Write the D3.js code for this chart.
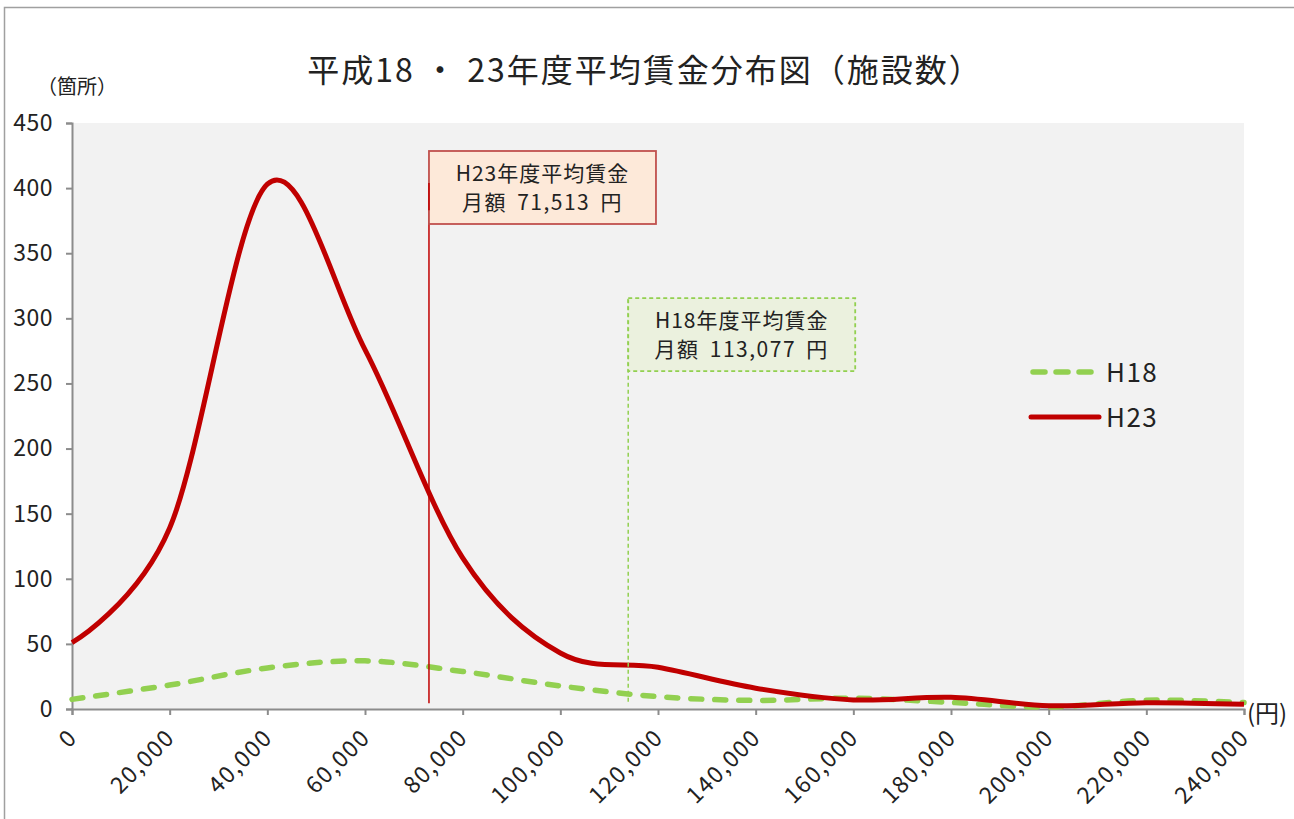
<!DOCTYPE html>
<html>
<head>
<meta charset="utf-8">
<script src="https://cdn.jsdelivr.net/npm/d3@7"></script>
<style>
  html, body { margin: 0; padding: 0; background: #ffffff; }
  svg { display: block; }
  text { font-family: "Noto Sans CJK JP", "Noto Sans", sans-serif; fill: #222; }
</style>
</head>
<body>
<svg id="chart" width="1294" height="819"></svg>
<script>
// ---- data ----
const wages = [0, 20000, 40000, 60000, 80000, 100000, 120000,
  140000, 160000, 180000, 200000, 220000, 240000];
const h23 = [51, 139, 403, 276, 116, 43, 32, 16, 7, 9, 2.5, 4.8, 3.6];
const h18 = [7.4, 18.4, 31.5, 37, 28.8, 17.7, 9.5, 6.6, 8.3, 5.1, 1.5, 6.8, 4.9];
const xTicks = [0, 20000, 40000, 60000, 80000, 100000, 120000, 140000, 160000, 180000, 200000, 220000, 240000];
const yTicks = [0, 50, 100, 150, 200, 250, 300, 350, 400, 450];
const seriesNames = ["H18", "H23"];
const avgPositions = [113900, 73100];   // where the marker lines sit in the picture
const avgLabels = [["H18年度平均賃金", "月額 113,077 円"], ["H23年度平均賃金", "月額 71,513 円"]];
const titleText = "平成18 ・ 23年度平均賃金分布図（施設数）";

// ---- layout ----
const svg = d3.select("#chart");
const L = 72, R = 1244, T = 123, B = 709;
const x = d3.scaleLinear().domain([0, 240000]).range([L, R]);
const y = d3.scaleLinear().domain([0, 450]).range([B, T]);
const fmt = d3.format(",");

// outer frame
svg.append("rect").attr("x", 4.5).attr("y", 7.5).attr("width", 1300).attr("height", 830)
  .attr("fill", "#fff").attr("stroke", "#a0a0a0").attr("stroke-width", 1.5);

// plot background
svg.append("rect").attr("x", L).attr("y", T).attr("width", R - L).attr("height", B - T)
  .attr("fill", "#f2f2f2");

// title
svg.append("text").attr("x", 645).attr("y", 82).attr("text-anchor", "middle")
  .attr("font-size", 32).attr("letter-spacing", 2).text(titleText);

// y unit
svg.append("text").attr("x", 37).attr("y", 94).attr("font-size", 20).text("（箇所）");

// y axis
const yAxis = svg.append("g").attr("transform", `translate(${L},0)`)
  .call(d3.axisLeft(y).tickValues(yTicks).tickSize(6).tickPadding(12).tickFormat(d => d));
yAxis.select(".domain").attr("stroke", "#8c8c8c").attr("stroke-width", 2);
yAxis.selectAll(".tick line").attr("stroke", "#8c8c8c").attr("stroke-width", 2);
yAxis.selectAll(".tick text").attr("font-size", 23).attr("fill", "#222")
  .attr("font-family", "'Noto Sans CJK JP', sans-serif").attr("letter-spacing", 0.5).attr("dx", -1);

// x axis
const xAxis = svg.append("g").attr("transform", `translate(0,${B})`)
  .call(d3.axisBottom(x).tickValues(xTicks).tickSize(6).tickFormat(d => fmt(d)));
xAxis.select(".domain").attr("stroke", "#8c8c8c").attr("stroke-width", 2);
xAxis.selectAll(".tick line").attr("stroke", "#8c8c8c").attr("stroke-width", 2);
xAxis.selectAll(".tick text").attr("font-size", 23).attr("fill", "#222")
  .attr("font-family", "'Noto Sans CJK JP', sans-serif").attr("letter-spacing", 1.5)
  .attr("text-anchor", "end").attr("dy", null).attr("y", 0)
  .attr("transform", "translate(6,30) rotate(-45)");

// x unit
svg.append("text").attr("x", 1247).attr("y", 722).attr("font-size", 24).text("(円)");

// lines
const line = d3.line().curve(d3.curveCardinal.tension(0))
  .x((d, i) => x(wages[i])).y(d => y(d));

svg.append("path").datum(h18).attr("d", line).attr("fill", "none")
  .attr("stroke", "#92d050").attr("stroke-width", 5.5)
  .attr("stroke-dasharray", "11,13").attr("stroke-linecap", "round");

svg.append("path").datum(h23).attr("d", line).attr("fill", "none")
  .attr("stroke", "#c00000").attr("stroke-width", 5).attr("stroke-linejoin", "round");

// average marker lines
svg.append("line").attr("x1", x(avgPositions[1])).attr("x2", x(avgPositions[1]))
  .attr("y1", y(404)).attr("y2", y(4.5)).attr("stroke", "#c00000").attr("stroke-width", 1.5);
svg.append("line").attr("x1", x(avgPositions[0])).attr("x2", x(avgPositions[0]))
  .attr("y1", y(315)).attr("y2", y(5.5)).attr("stroke", "#92d050").attr("stroke-width", 1.5)
  .attr("stroke-dasharray", "4,3");

// annotation boxes
function box(px, topVal, fill, stroke, dash, lines) {
  const bx = x(px), by = y(topVal);
  const w = 227, h = 73;
  const g = svg.append("g");
  g.append("rect").attr("x", bx).attr("y", by).attr("width", w).attr("height", h)
    .attr("fill", fill).attr("stroke", stroke).attr("stroke-width", 1.8)
    .attr("stroke-dasharray", dash);
  g.append("text").attr("x", bx + w / 2).attr("y", by + 30).attr("text-anchor", "middle")
    .attr("font-size", 21).attr("letter-spacing", 1).text(lines[0]);
  g.append("text").attr("x", bx + w / 2).attr("y", by + 59).attr("text-anchor", "middle")
    .attr("font-size", 21).attr("letter-spacing", 1.5).attr("word-spacing", 4).text(lines[1]);
}
box(avgPositions[1], 428.5, "#fde9d9", "#c0504d", null, avgLabels[1]);
box(avgPositions[0], 315.5, "#ebf1de", "#92d050", "4,3", avgLabels[0]);

// red marker continues inside the box
svg.append("line").attr("x1", x(avgPositions[1])).attr("x2", x(avgPositions[1]))
  .attr("y1", y(404)).attr("y2", y(383)).attr("stroke", "#c00000").attr("stroke-width", 1.5);

// legend
const lg = svg.append("g");
lg.append("line").attr("x1", 1033).attr("x2", 1092).attr("y1", 372).attr("y2", 372)
  .attr("stroke", "#92d050").attr("stroke-width", 5.5).attr("stroke-dasharray", "12,11")
  .attr("stroke-linecap", "round");
lg.append("text").attr("x", 1106).attr("y", 382).attr("font-size", 26).attr("letter-spacing", 1.5)
  .text(seriesNames[0]);
lg.append("line").attr("x1", 1031).attr("x2", 1099).attr("y1", 417).attr("y2", 417)
  .attr("stroke", "#c00000").attr("stroke-width", 5).attr("stroke-linecap", "round");
lg.append("text").attr("x", 1106).attr("y", 427).attr("font-size", 26).attr("letter-spacing", 1.5)
  .text(seriesNames[1]);
</script>
</body>
</html>
